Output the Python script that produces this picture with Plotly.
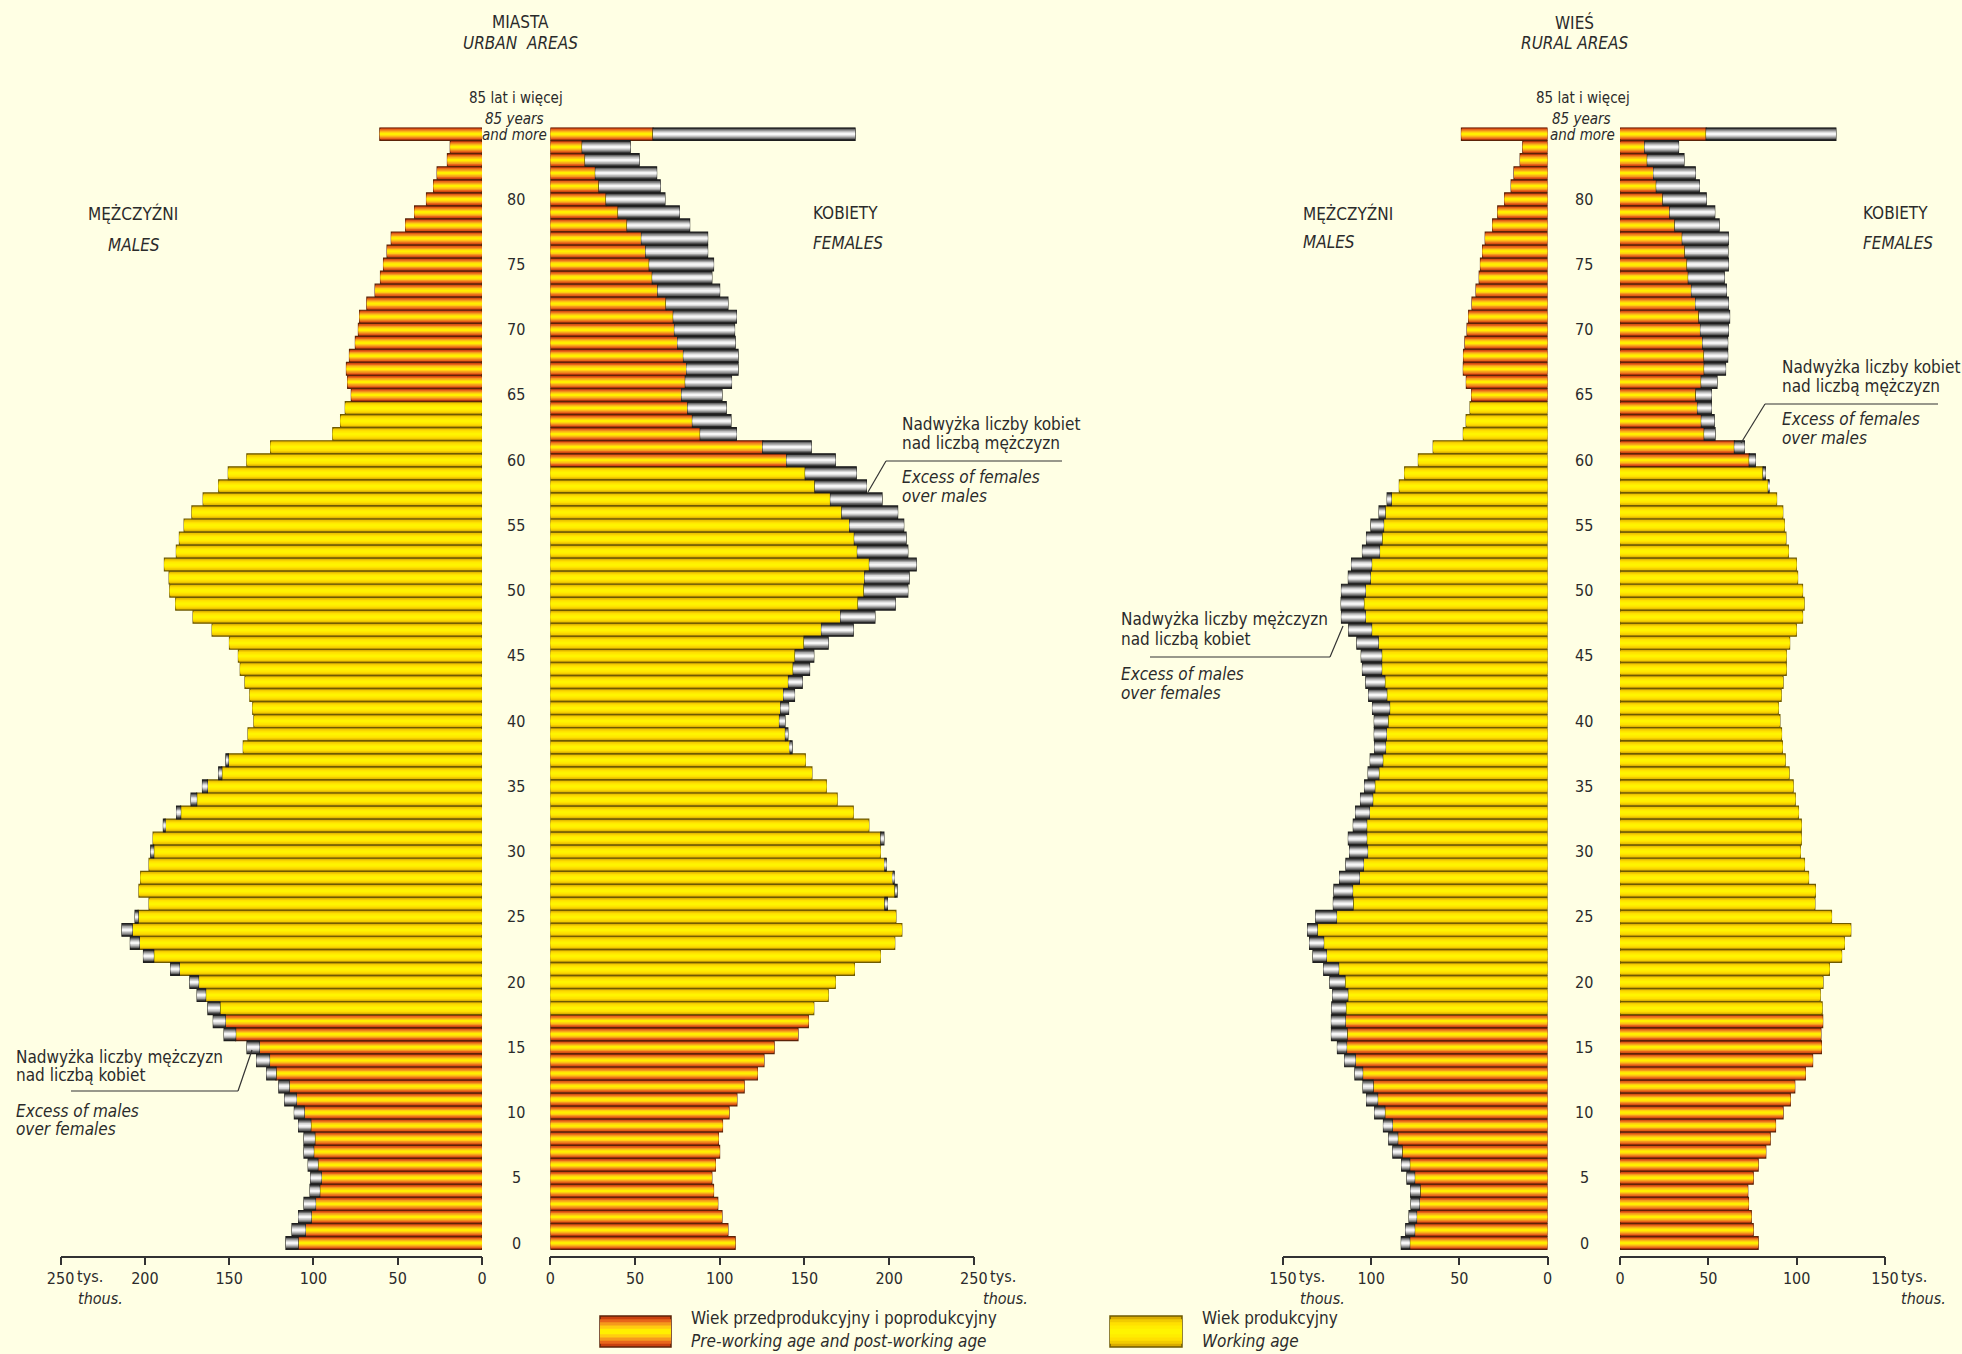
import plotly.graph_objects as go

W, H = 1962, 1354

# ---------------- data (thousands) ----------------
AGES = list(range(86))  # 85 = "85 and more"
AGE_LABELS = list(range(0, 85, 5))

URBAN_M = [116.3, 112.7, 108.8, 105.6, 102.0, 101.6, 103.1, 105.6, 105.6, 108.8,
           111.3, 117.0, 120.5, 127.7, 133.7, 139.4, 153.0, 159.4, 162.6, 169.0,
           173.3, 184.7, 200.8, 208.6, 213.6, 205.8, 197.5, 203.5, 202.5, 197.5,
           196.5, 195.1, 189.0, 181.2, 172.6, 165.8, 156.2, 151.9, 141.6, 138.8,
           135.3, 136.0, 137.7, 140.6, 143.4, 144.5, 149.8, 160.1, 171.4, 181.7,
           185.2, 185.6, 188.4, 181.3, 179.5, 176.7, 172.1, 165.4, 156.2, 150.5,
           139.5, 125.4, 88.5, 83.9, 81.1, 77.5, 79.7, 80.4, 78.6, 75.1,
           73.3, 72.6, 68.3, 63.4, 60.2, 58.4, 56.3, 53.8, 45.3, 40.0,
           32.9, 28.7, 26.6, 20.5, 18.8, 60.6]

URBAN_F = [109.1, 104.8, 101.3, 98.8, 96.3, 95.3, 97.4, 99.9, 99.2, 101.6,
           105.5, 110.1, 114.4, 122.2, 126.1, 132.1, 146.2, 152.3, 155.5, 164.0,
           168.2, 179.5, 194.8, 203.3, 207.5, 204.0, 199.0, 204.7, 203.0, 198.3,
           194.8, 196.9, 188.0, 178.8, 169.3, 162.9, 154.4, 150.5, 142.7, 140.2,
           138.5, 140.6, 144.1, 148.7, 153.0, 155.5, 164.0, 178.8, 191.6, 203.6,
           211.0, 211.8, 216.0, 211.0, 210.0, 208.6, 205.0, 195.8, 186.6, 180.6,
           168.2, 154.0, 109.8, 106.6, 103.8, 101.3, 106.9, 110.8, 110.8, 109.1,
           108.7, 109.8, 104.8, 99.9, 95.3, 96.3, 92.8, 92.8, 82.2, 76.1,
           67.6, 64.8, 62.7, 52.4, 47.1, 179.9]

RURAL_M = [82.9, 80.4, 78.5, 77.4, 77.6, 79.7, 82.7, 87.7, 90.0, 93.0,
           98.0, 102.6, 104.6, 109.2, 115.0, 119.1, 122.5, 122.5, 122.3, 121.8,
           123.4, 126.9, 133.0, 134.9, 136.0, 131.4, 121.4, 121.1, 117.9, 114.3,
           112.2, 112.9, 110.1, 108.8, 106.0, 103.7, 101.7, 100.5, 98.0, 98.2,
           98.2, 99.2, 101.4, 103.0, 104.9, 105.6, 108.1, 112.7, 116.8, 117.0,
           116.8, 112.9, 111.1, 104.9, 102.6, 100.1, 95.5, 90.9, 84.0, 81.0,
           73.2, 64.8, 47.7, 46.1, 43.9, 43.0, 46.0, 47.7, 47.6, 46.8,
           45.6, 44.7, 42.8, 40.5, 38.7, 38.0, 36.8, 35.3, 31.1, 28.2,
           24.3, 20.6, 19.0, 15.5, 14.0, 48.8]

RURAL_F = [78.2, 75.4, 74.3, 72.7, 72.3, 75.4, 78.2, 82.5, 85.0, 88.0,
           92.3, 96.4, 98.9, 104.9, 109.0, 114.0, 113.7, 114.7, 114.4, 113.3,
           114.9, 118.5, 125.4, 127.0, 130.6, 119.7, 110.3, 110.6, 106.7, 104.4,
           102.1, 102.6, 102.6, 101.0, 99.2, 98.0, 95.7, 93.5, 91.9, 91.4,
           90.5, 89.6, 91.2, 92.3, 94.1, 94.1, 96.0, 99.8, 103.3, 104.2,
           103.3, 100.5, 99.8, 95.3, 93.9, 93.0, 92.1, 88.6, 84.4, 82.3,
           76.6, 70.4, 53.8, 53.3, 51.7, 51.7, 54.9, 59.7, 60.9, 60.9,
           61.3, 62.0, 61.3, 60.2, 59.0, 61.3, 61.1, 61.3, 56.1, 53.6,
           48.8, 44.9, 42.6, 36.2, 33.1, 122.2]

URBAN_TICKS = [0, 50, 100, 150, 200, 250]
RURAL_TICKS = [0, 50, 100, 150]
WORKING_MALE = (18, 64)
WORKING_FEMALE = (18, 59)

# ---------------- style ----------------
BG = "#FFFFE4"
TXT = "#2B2B2B"
FONT = "Liberation Sans Narrow, DejaVu Sans Condensed, Roboto Condensed, Arial Narrow, sans-serif"
WIDTHS = [0.98, 0.78, 0.58, 0.38, 0.18]
ORANGE = ["#C8400E", "#E8661A", "#F59A1C", "#FFCC10", "#FFEF00"]
YELLOW = ["#D9AC00", "#F2CC00", "#FFE000", "#FFEC00", "#FFF400"]
GREY = ["#2E2E2E", "#6A6A6A", "#A4A4A4", "#D6D6D6", "#F6F6F6"]
ORANGE_LINE = "#5C2308"
YELLOW_LINE = "#6E5A00"
GREY_LINE = "#1E1E1E"


def fx(p):
    return p / W


def fy(p):
    return 1 - p / H


fig = go.Figure()


def add_panel(xa, own, other, working):
    lo, hi = working
    colored = [min(a, b) for a, b in zip(own, other)]
    excess = [(a - b) if a - b > 0.05 else None for a, b in zip(own, other)]
    is_work = [lo <= age <= hi for age in AGES]
    for k, w in enumerate(WIDTHS):
        cols = [YELLOW[k] if wk else ORANGE[k] for wk in is_work]
        lcols = [YELLOW_LINE if wk else ORANGE_LINE for wk in is_work]
        fig.add_trace(go.Bar(
            y=AGES, x=colored, orientation="h", width=w,
            marker=dict(color=cols,
                        line=dict(color=lcols, width=1.2 if k == 0 else 0)),
            xaxis=xa, yaxis="y", showlegend=False, hoverinfo="skip"))
    for k, w in enumerate(WIDTHS):
        fig.add_trace(go.Bar(
            y=AGES, x=excess, base=colored, orientation="h", width=w,
            marker=dict(color=GREY[k],
                        line=dict(color=GREY_LINE, width=1.2 if k == 0 else 0)),
            xaxis=xa, yaxis="y", showlegend=False, hoverinfo="skip"))


add_panel("x", URBAN_M, URBAN_F, WORKING_MALE)
add_panel("x2", URBAN_F, URBAN_M, WORKING_FEMALE)
add_panel("x3", RURAL_M, RURAL_F, WORKING_MALE)
add_panel("x4", RURAL_F, RURAL_M, WORKING_FEMALE)

# panel pixel extents
UM = (60.6, 482.0)
UF = (550.4, 973.8)
RM = (1283.0, 1547.5)
RF = (1620.0, 1885.0)
Y_TOP, Y_BOT = 127.5, 1255.5
Y_RANGE = [-0.958, 85.498]

xcommon = dict(showgrid=False, zeroline=False, showline=True, linecolor="#333333",
               linewidth=1.5, ticks="outside", ticklen=8, tickwidth=1.5,
               tickcolor="#333333", anchor="y", fixedrange=True, automargin=False,
               tickfont=dict(family=FONT, size=16, color=TXT))

fig.update_layout(
    width=W, height=H, autosize=False,
    margin=dict(l=0, r=0, t=0, b=0, pad=0),
    paper_bgcolor=BG, plot_bgcolor="rgba(0,0,0,0)",
    barmode="overlay",
    font=dict(family=FONT, color=TXT),
    xaxis=dict(domain=[fx(UM[0]), fx(UM[1])], range=[250, 0],
               tickvals=URBAN_TICKS, **xcommon),
    xaxis2=dict(domain=[fx(UF[0]), fx(UF[1])], range=[0, 250],
                tickvals=URBAN_TICKS, **xcommon),
    xaxis3=dict(domain=[fx(RM[0]), fx(RM[1])], range=[150, 0],
                tickvals=RURAL_TICKS, **xcommon),
    xaxis4=dict(domain=[fx(RF[0]), fx(RF[1])], range=[0, 150],
                tickvals=RURAL_TICKS, **xcommon),
    yaxis=dict(domain=[fy(Y_BOT), fy(Y_TOP)], range=Y_RANGE, visible=False,
               fixedrange=True, anchor="x", automargin=False),
)

ann = []


def txt(x, y, text, size=17, xanchor="center", italic=False, xref="paper",
        yref="paper", xshift=0):
    t = f"<i>{text}</i>" if italic else text
    ann.append(dict(x=x, y=y, xref=xref, yref=yref, text=t, showarrow=False,
                    xanchor=xanchor, yanchor="middle", xshift=xshift,
                    borderpad=0,
                    font=dict(family=FONT, size=size, color=TXT)))


# age labels in the gaps
for cx in (516.0, 1584.0):
    for a in AGE_LABELS:
        txt(fx(cx), a, str(a), size=16, yref="y")

# 85+ labels
txt(fx(516), fy(98), "85 lat i więcej", 15)
txt(fx(514), fy(119), "85 years", 15, italic=True)
txt(fx(514), fy(135), "and more", 15, italic=True)
txt(fx(1583), fy(98), "85 lat i więcej", 15)
txt(fx(1581), fy(119), "85 years", 15, italic=True)
txt(fx(1582), fy(135), "and more", 15, italic=True)

# titles
txt(fx(520), fy(22), "MIASTA", 17)
txt(fx(520), fy(43), "URBAN\u00a0\u00a0AREAS", 17, italic=True)
txt(fx(1574), fy(22), "WIEŚ", 17)
txt(fx(1574), fy(43), "RURAL AREAS", 17, italic=True)

# sex labels
txt(fx(133), fy(214), "MĘŻCZYŹNI", 17)
txt(fx(134), fy(245), "MALES", 17, italic=True)
txt(fx(812), fy(213), "KOBIETY", 17, xanchor="left")
txt(fx(812), fy(243), "FEMALES", 17, italic=True, xanchor="left")
txt(fx(1302), fy(213), "MĘŻCZYŹNI", 17, xanchor="left")
txt(fx(1302), fy(242), "MALES", 17, italic=True, xanchor="left")
txt(fx(1862), fy(213), "KOBIETY", 17, xanchor="left")
txt(fx(1862), fy(243), "FEMALES", 17, italic=True, xanchor="left")

# unit labels
for xa, v, th in (("x", 250, 77), ("x2", 250, 982), ("x3", 150, 1299), ("x4", 150, 1900)):
    txt(v, fy(1276), "tys.", 16, xanchor="left", xref=xa, xshift=15)
    txt(fx(th), fy(1298), "thous.", 16, xanchor="left", italic=True)

shapes = []


def seg(x0, y0, x1, y1, color="#333333", width=1.2):
    shapes.append(dict(type="line", xref="paper", yref="paper",
                       x0=fx(x0), y0=fy(y0), x1=fx(x1), y1=fy(y1),
                       line=dict(color=color, width=width)))


# callouts
txt(fx(901), fy(424), "Nadwyżka liczby kobiet", 17, xanchor="left")
txt(fx(901), fy(443), "nad liczbą mężczyzn", 17, xanchor="left")
txt(fx(901), fy(477), "Excess of females", 17, xanchor="left", italic=True)
txt(fx(901), fy(496), "over males", 17, xanchor="left", italic=True)
seg(886, 461, 1062, 461)
seg(886, 461, 868, 492)

txt(fx(15), fy(1057), "Nadwyżka liczby mężczyzn", 17, xanchor="left")
txt(fx(15), fy(1075), "nad liczbą kobiet", 17, xanchor="left")
txt(fx(15), fy(1111), "Excess of males", 17, xanchor="left", italic=True)
txt(fx(15), fy(1129), "over females", 17, xanchor="left", italic=True)
seg(71, 1091, 238, 1091)
seg(238, 1091, 252, 1050)

txt(fx(1120), fy(619), "Nadwyżka liczby mężczyzn", 17, xanchor="left")
txt(fx(1120), fy(639), "nad liczbą kobiet", 17, xanchor="left")
txt(fx(1120), fy(674), "Excess of males", 17, xanchor="left", italic=True)
txt(fx(1120), fy(693), "over females", 17, xanchor="left", italic=True)
seg(1150, 657, 1330, 657)
seg(1330, 657, 1343, 626)

txt(fx(1781), fy(367), "Nadwyżka liczby kobiet", 17, xanchor="left")
txt(fx(1781), fy(386), "nad liczbą mężczyzn", 17, xanchor="left")
txt(fx(1781), fy(419), "Excess of females", 17, xanchor="left", italic=True)
txt(fx(1781), fy(438), "over males", 17, xanchor="left", italic=True)
seg(1765, 404, 1938, 404)
seg(1765, 404, 1741, 443)


# legend swatches
def swatch(x0, x1, y0, y1, cols, line):
    cy = (y0 + y1) / 2
    hh = (y1 - y0) / 2
    for k, c in enumerate(cols):
        f = WIDTHS[k] / WIDTHS[0]
        shapes.append(dict(type="rect", xref="paper", yref="paper",
                           x0=fx(x0), x1=fx(x1), y0=fy(cy + hh * f), y1=fy(cy - hh * f),
                           fillcolor=c,
                           line=dict(color=line, width=1.5 if k == 0 else 0)))


swatch(600, 671, 1316, 1347, ORANGE, ORANGE_LINE)
swatch(1110, 1182, 1316, 1347, YELLOW, YELLOW_LINE)
txt(fx(690), fy(1318), "Wiek przedprodukcyjny i poprodukcyjny", 17, xanchor="left")
txt(fx(690), fy(1341), "Pre-working age and post-working age", 17, xanchor="left", italic=True)
txt(fx(1201), fy(1318), "Wiek produkcyjny", 17, xanchor="left")
txt(fx(1201), fy(1341), "Working age", 17, xanchor="left", italic=True)

fig.update_layout(annotations=ann, shapes=shapes)
fig.write_html("out.html", config={"displayModeBar": False},
               post_script="document.body.style.margin='0';document.body.style.overflow='hidden';")
